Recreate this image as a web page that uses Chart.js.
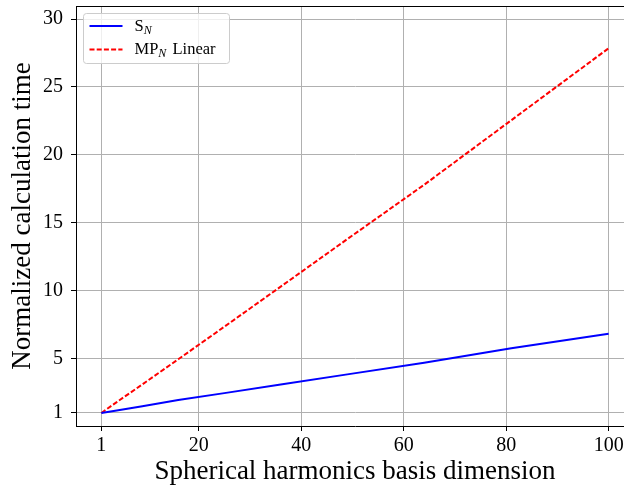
<!DOCTYPE html>
<html>
<head>
<meta charset="utf-8">
<script src="https://cdn.jsdelivr.net/npm/chart.js@4/dist/chart.umd.min.js"></script>
<style>
  html, body { margin: 0; padding: 0; background: #fff; overflow: hidden; }
  #wrap { width: 650px; height: 489px; }
</style>
</head>
<body>
<div id="wrap"><canvas id="timing" width="650" height="489"></canvas></div>
<script>
// Timing comparison: S_N vs MP_N (linear)

const basisDims = [1, 4, 9, 16, 25, 36, 49, 64, 81, 100];
const snTimes = [1.0, 1.18, 1.49, 1.95, 2.46, 3.09, 3.84, 4.7, 5.76, 6.83];
const mpnTimes = [1.0, 1.8, 3.1, 4.95, 7.35, 10.3, 13.8, 17.8, 22.55, 27.85];

const xTicks = [1, 20, 40, 60, 80, 100];
const yTicks = [1, 5, 10, 15, 20, 25, 30];

const seriesLabels = ['S_N', 'MP_N Linear'];

const SERIF = "'Liberation Serif', 'DejaVu Serif', serif";

// split "MP_N Linear" into base / subscript / rest
function splitLabel(label) {
  const m = label.match(/^([^_]*)_(\S)(.*)$/);
  if (!m) return [label, '', ''];
  return [m[1], m[2], m[3]];
}

// matplotlib-like legend with subscripts + top spine
const plotExtras = {
  id: 'plotExtras',
  afterDraw(chart) {
    const { ctx, chartArea } = chart;
    ctx.save();

    // top spine
    ctx.strokeStyle = '#000';
    ctx.lineWidth = 1;
    ctx.beginPath();
    ctx.moveTo(chartArea.left, chartArea.top + 0.5);
    ctx.lineTo(chartArea.right, chartArea.top + 0.5);
    ctx.stroke();

    // legend box
    const bx = chartArea.left + 7.5, by = chartArea.top + 7.5;
    const bw = 146, bh = 50, r = 3;
    ctx.fillStyle = 'rgba(255,255,255,0.8)';
    ctx.strokeStyle = '#cccccc';
    ctx.beginPath();
    ctx.roundRect(bx, by, bw, bh, r);
    ctx.fill();
    ctx.stroke();

    chart.data.datasets.forEach((ds, i) => {
      const y = by + 12.5 + i * 23.5;
      ctx.strokeStyle = ds.borderColor;
      ctx.lineWidth = ds.borderWidth;
      ctx.setLineDash(ds.borderDash || []);
      ctx.beginPath();
      ctx.moveTo(bx + 6, y);
      ctx.lineTo(bx + 39, y);
      ctx.stroke();
      ctx.setLineDash([]);

      const [base, sub, rest] = splitLabel(ds.label);
      let tx = bx + 51;
      const baseY = y + 4.5;
      ctx.fillStyle = '#000';
      ctx.textBaseline = 'alphabetic';
      ctx.font = '16.5px ' + SERIF;
      ctx.fillText(base, tx, baseY);
      tx += ctx.measureText(base).width;
      if (sub) {
        ctx.font = 'italic 12px ' + SERIF;
        ctx.fillText(sub, tx, baseY + 3);
        tx += ctx.measureText(sub).width + 2;
        ctx.font = '16.5px ' + SERIF;
        ctx.fillText(rest, tx, baseY);
      }
    });
    ctx.restore();
  }
};

new Chart(document.getElementById('timing'), {
  type: 'line',
  data: {
    datasets: [
      {
        label: seriesLabels[0],
        data: basisDims.map((d, i) => ({ x: d, y: snTimes[i] })),
        borderColor: '#0000ff',
        borderWidth: 2,
        pointRadius: 0,
        tension: 0
      },
      {
        label: seriesLabels[1],
        data: basisDims.map((d, i) => ({ x: d, y: mpnTimes[i] })),
        borderColor: '#ff0000',
        borderWidth: 2,
        borderDash: [5, 2.2],
        pointRadius: 0,
        tension: 0
      }
    ]
  },
  options: {
    responsive: false,
    animation: false,
    layout: { padding: { top: 6, right: 16, left: 0, bottom: 0 } },
    plugins: {
      legend: { display: false },
      tooltip: { enabled: false }
    },
    scales: {
      x: {
        type: 'linear',
        min: -3.95,
        max: 104.95,
        afterBuildTicks: (scale) => { scale.ticks = xTicks.map(v => ({ value: v })); },
        afterFit: (scale) => {
          scale.height = 63;
          scale.paddingLeft = 0;
          scale.paddingRight = 0;
        },
        ticks: {
          color: '#000',
          font: { family: SERIF, size: 20 },
          padding: 3,
          maxRotation: 0,
          callback: (v) => String(v)
        },
        grid: { color: '#b0b0b0', lineWidth: 1, tickLength: 5, tickColor: '#000', tickWidth: 1 },
        border: { color: '#000', width: 1 },
        title: {
          display: true,
          text: 'Spherical harmonics basis dimension',
          color: '#000',
          font: { family: SERIF, size: 27, lineHeight: 1.2 },
          padding: { top: 0, bottom: 1 }
        }
      },
      y: {
        min: 0.04,
        max: 30.96,
        afterBuildTicks: (scale) => { scale.ticks = yTicks.map(v => ({ value: v })); },
        afterFit: (scale) => {
          scale.width = 76;
          scale.paddingTop = 0;
          scale.paddingBottom = 0;
        },
        ticks: {
          color: '#000',
          font: { family: SERIF, size: 20 },
          padding: 8,
          callback: (v) => String(v)
        },
        grid: { color: '#b0b0b0', lineWidth: 1, tickLength: 5, tickColor: '#000', tickWidth: 1 },
        border: { color: '#000', width: 1 },
        title: {
          display: true,
          text: 'Normalized calculation time',
          color: '#000',
          font: { family: SERIF, size: 27, lineHeight: 1.2 },
          padding: { top: 7, bottom: 0 }
        }
      }
    }
  },
  plugins: [plotExtras]
});
</script>
</body>
</html>
